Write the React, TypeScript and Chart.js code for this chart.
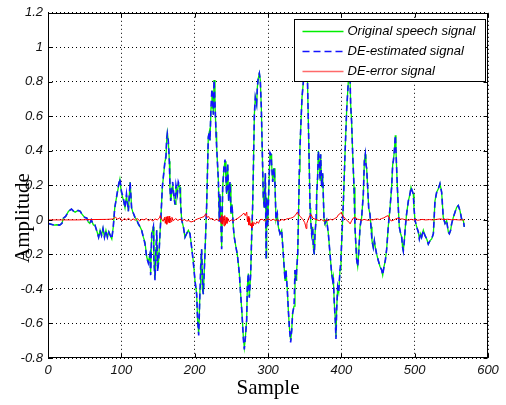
import React, { useEffect, useRef } from "react";
import { Chart, registerables } from "chart.js";

Chart.register(...registerables);

// ---- data ----
const xTickValues = [0, 100, 200, 300, 400, 500, 600];
const yTickValues = [-0.8, -0.6, -0.4, -0.2, 0, 0.2, 0.4, 0.6, 0.8, 1, 1.2];
const seriesNames = ["Original speech signal", "DE-estimated signal", "DE-error signal"];
const xTitle = "Sample";
const yTitle = "Amplitude";

// [sample, amplitude]
const originalSignal: [number, number][] = [
  [0,-0.02],[4,-0.025],[8,-0.03],[12,-0.028],[16,-0.03],[19,-0.02],[21,0.01],[24,0.02],[28,0.05],[32,0.063],
  [35,0.05],[37,0.045],[41,0.055],[44,0.05],[46,0.035],[50,0.015],[53,0.01],[55,-0.013],[57,-0.02],[59,0.0],
  [62,-0.03],[64,-0.03],[67,-0.07],[69,-0.1],[71,-0.06],[73,-0.09],[75,-0.05],[77,-0.1],[79,-0.06],[81,-0.1],
  [83,-0.07],[85,-0.09],[87,-0.11],[89,-0.04],[91,0.07],[93,0.12],[96,0.19],[98,0.235],[100,0.16],[103,0.11],
  [105,0.07],[107,0.14],[109.6,0.05],[112,0.22],[114,0.07],[116.4,0.035],[118.6,0.015],[121,0.0],[123,-0.023],[125.5,-0.04],
  [127.7,-0.06],[130,-0.1],[132.3,-0.13],[134.6,-0.215],[136.8,-0.245],[139,-0.2],[140,-0.31],[141.4,-0.08],[143.7,-0.04],[144.5,-0.235],
  [145.9,-0.34],[147.3,-0.16],[148.2,-0.06],[149.5,-0.29],[150.9,-0.235],[152.7,-0.08],[154,0.015],[155.9,0.19],[157.3,0.245],[159.5,0.34],
  [160.9,0.36],[161.8,0.46],[162.7,0.505],[164,0.46],[165.5,0.34],[166.3,0.19],[167.3,0.11],[168.6,0.15],[170,0.21],[171.8,0.13],
  [173.2,0.09],[174.5,0.19],[176.4,0.15],[177.7,0.21],[180,0.19],[180.9,0.09],[182.3,0.0],[184.6,-0.04],[186.8,-0.1],[189,-0.08],
  [191.4,-0.06],[193.6,-0.08],[195.9,-0.16],[198,-0.235],[200.4,-0.35],[202.7,-0.43],[204,-0.58],[205.5,-0.66],[206.4,-0.54],[207.3,-0.4],
  [208.2,-0.27],[209.5,-0.17],[210.9,-0.4],[211.8,-0.43],[214,-0.2],[216.4,0.09],[218.6,0.48],[220,0.51],[220.9,0.46],[222.3,0.65],
  [223.6,0.75],[225.5,0.61],[226.4,0.81],[227.7,0.67],[229.1,0.51],[230,0.42],[232.3,0.23],[233.6,0.0],[234.5,0.15],[235.5,0.035],
  [236.8,-0.16],[238.2,0.19],[240,0.3],[241.4,0.34],[242.7,0.23],[243.6,0.15],[245,0.32],[246.4,0.11],[248.2,0.21],[249.5,0.035],
  [250.9,0.09],[252.7,-0.04],[254,-0.1],[256.4,-0.16],[258.2,-0.2],[260.9,-0.31],[262.7,-0.43],[264.5,-0.54],[266.4,-0.68],[267.7,-0.74],
  [269,-0.69],[270.9,-0.58],[271.8,-0.39],[273.2,-0.31],[274.5,-0.45],[276.4,-0.31],[277.7,-0.1],[279,0.07],[280,0.28],[281.4,0.61],
  [282.7,0.71],[284.5,0.67],[285.5,0.77],[286.8,0.82],[288.2,0.85],[289.5,0.81],[290.9,0.65],[292.3,0.38],[293.6,0.13],[295,0.07],
  [296.4,0.27],[297.5,-0.22],[298.2,0.13],[299.5,-0.04],[300.9,0.15],[302.7,0.38],[304.1,0.38],[305,0.32],[306.4,0.22],[308.2,0.3],
  [309.5,0.21],[310.9,0.0],[312.7,0.035],[314.1,-0.04],[316.4,-0.08],[318.6,-0.06],[320.9,-0.2],[323.2,-0.35],[324.5,-0.29],[326.4,-0.41],
  [327.7,-0.52],[329.1,-0.62],[330.9,-0.7],[332.3,-0.64],[333.6,-0.54],[335.5,-0.5],[336.8,-0.29],[338.2,-0.35],[339.1,-0.29],[340.5,-0.2],
  [341.8,0.07],[342.7,0.28],[343.6,0.42],[345,0.57],[346.4,0.71],[348.2,0.8],[349.5,0.88],[351.8,0.95],[353.6,0.86],[355,0.57],
  [356.4,0.28],[357.3,0.07],[358.2,0.0],[359.5,-0.08],[360.9,-0.04],[361.8,-0.16],[363.2,-0.2],[364.1,-0.08],[365.5,0.0],[366.4,0.15],
  [367.7,0.25],[368.6,0.4],[370,0.34],[371,0.23],[371.8,0.38],[373.2,0.19],[374.5,0.27],[375.5,0.13],[376.4,0.0],[377.7,-0.02],
  [380,0.0],[382.3,-0.08],[384.6,-0.2],[386.8,-0.31],[388.2,-0.35],[389,-0.33],[390.4,-0.48],[391.8,-0.58],[392.7,-0.68],[393.6,-0.52],
  [395,-0.39],[396.4,-0.42],[398.2,-0.29],[399.5,-0.23],[400.9,-0.08],[402.7,0.09],[405,0.38],[407.3,0.64],[409.5,0.8],[410.9,0.9],
  [411.8,0.84],[412.7,0.67],[414,0.57],[415.5,0.38],[417.3,0.19],[418.6,-0.04],[420,-0.16],[420.9,-0.23],[422.3,-0.27],[423.6,-0.2],
  [425.5,-0.04],[427.7,0.015],[430,0.15],[431.4,0.34],[432.7,0.38],[433.6,0.32],[434.5,0.3],[435.9,0.19],[437.3,0.07],[439,0.035],
  [440.5,-0.04],[441.8,-0.12],[443.6,-0.16],[445,-0.12],[446.4,-0.16],[448.2,-0.2],[450.4,-0.235],[452.7,-0.27],[455,-0.29],[456.4,-0.32],
  [458.2,-0.27],[460,-0.235],[461.8,-0.17],[464,-0.04],[466.4,0.07],[468.6,0.19],[470,0.32],[470.9,0.34],[472.3,0.4],[473.6,0.49],
  [474.5,0.4],[476.4,0.19],[477.7,0.07],[479,-0.04],[480.9,-0.08],[482.3,-0.1],[483.6,-0.16],[484.5,-0.18],[485.9,-0.12],[487.3,-0.04],
  [489,0.035],[491.4,0.11],[493.6,0.15],[495,0.19],[496.4,0.17],[498.2,0.15],[499,0.075],[500.4,0.0],[502.7,-0.04],[505,-0.07],
  [506.4,-0.11],[508.2,-0.08],[509.5,-0.1],[511.8,-0.06],[514,-0.09],[516.4,-0.11],[518.6,-0.14],[521,-0.12],[523.2,-0.11],[525.5,-0.08],
  [527.7,0.11],[530,0.16],[532.3,0.18],[534.5,0.21],[536.8,0.16],[539,0.015],[541.4,-0.02],[543.6,-0.004],[545.9,-0.07],[547.3,-0.08],
  [549,-0.06],[550.4,-0.023],[552.7,0.015],[555,0.044],[557.3,0.073],[559.5,0.083],[561.8,0.054],[564,0.006],[566.4,-0.004],[567.7,-0.04]
];

const estimatedSignal: [number, number][] = [
  [0,-0.02],[4,-0.025],[8,-0.03],[12,-0.028],[16,-0.03],[19,-0.02],[21,0.01],[24,0.02],[28,0.05],[32,0.063],
  [35,0.05],[37,0.045],[41,0.055],[44,0.05],[46,0.035],[50,0.015],[53,0.01],[55,-0.013],[57,-0.02],[59,0.0],
  [62,-0.03],[64,-0.03],[67,-0.07],[69,-0.1],[71,-0.06],[73,-0.09],[75,-0.05],[77,-0.1],[79,-0.06],[81,-0.1],
  [83,-0.07],[85,-0.09],[87,-0.11],[89,-0.04],[91,0.07],[93,0.12],[96,0.2],[98,0.24],[100,0.17],[103,0.12],
  [105,0.07],[107,0.15],[109.6,0.05],[112,0.22],[114,0.07],[116.4,0.04],[118.6,0.015],[121,0.0],[123,-0.02],[125.5,-0.04],
  [127.7,-0.06],[130,-0.1],[132.3,-0.14],[134.6,-0.22],[136.8,-0.25],[139,-0.2],[140,-0.32],[141.4,-0.08],[143.7,-0.04],[144.5,-0.24],
  [145.9,-0.35],[147.3,-0.16],[148.2,-0.06],[149.5,-0.3],[150.9,-0.24],[152.7,-0.08],[154,0.015],[155.9,0.19],[157.3,0.25],[159.5,0.34],
  [160.9,0.37],[161.8,0.47],[162.7,0.5],[164,0.46],[165.5,0.34],[166.3,0.19],[167.3,0.11],[168.6,0.16],[170,0.22],[171.8,0.13],
  [173.2,0.09],[174.5,0.2],[176.4,0.15],[177.7,0.22],[180,0.19],[180.9,0.09],[182.3,0.0],[184.6,-0.04],[186.8,-0.1],[189,-0.08],
  [191.4,-0.06],[193.6,-0.08],[195.9,-0.16],[198,-0.24],[200.4,-0.35],[202.7,-0.43],[204,-0.58],[205.5,-0.67],[206.4,-0.54],[207.3,-0.4],
  [208.2,-0.27],[209.5,-0.17],[210.9,-0.4],[211.8,-0.43],[214,-0.2],[216.4,0.09],[218.6,0.48],[220,0.51],[220.9,0.46],[222.3,0.66],
  [223.6,0.76],[225.5,0.61],[226.4,0.81],[227.7,0.68],[229.1,0.51],[230,0.42],[232.3,0.23],[233.6,-0.01],[234.5,0.15],[235.5,0.03],
  [236.8,-0.17],[238.2,0.19],[240,0.31],[241.4,0.35],[242.7,0.23],[243.6,0.15],[245,0.33],[246.4,0.11],[248.2,0.22],[249.5,0.035],
  [250.9,0.09],[252.7,-0.04],[254,-0.1],[256.4,-0.16],[258.2,-0.2],[260.9,-0.31],[262.7,-0.43],[264.5,-0.54],[266.4,-0.69],[267.7,-0.75],
  [269,-0.69],[270.9,-0.58],[271.8,-0.39],[273.2,-0.31],[274.5,-0.45],[276.4,-0.31],[277.7,-0.1],[279,0.07],[280,0.28],[281.4,0.61],
  [282.7,0.71],[284.5,0.67],[285.5,0.77],[286.8,0.83],[288.2,0.85],[289.5,0.81],[290.9,0.65],[292.3,0.38],[293.6,0.13],[295,0.07],
  [296.4,0.27],[297.5,-0.23],[298.2,0.13],[299.5,-0.04],[300.9,0.15],[302.7,0.39],[304.1,0.38],[305,0.32],[306.4,0.22],[308.2,0.3],
  [309.5,0.21],[310.9,0.0],[312.7,0.035],[314.1,-0.04],[316.4,-0.08],[318.6,-0.06],[320.9,-0.2],[323.2,-0.35],[324.5,-0.29],[326.4,-0.41],
  [327.7,-0.52],[329.1,-0.62],[330.9,-0.71],[332.3,-0.64],[333.6,-0.54],[335.5,-0.5],[336.8,-0.29],[338.2,-0.35],[339.1,-0.29],[340.5,-0.2],
  [341.8,0.07],[342.7,0.28],[343.6,0.42],[345,0.57],[346.4,0.71],[348.2,0.8],[349.5,0.88],[351.8,0.96],[353.6,0.86],[355,0.57],
  [356.4,0.28],[357.3,0.07],[358.2,0.0],[359.5,-0.08],[360.9,-0.04],[361.8,-0.16],[363.2,-0.2],[364.1,-0.08],[365.5,0.0],[366.4,0.15],
  [367.7,0.25],[368.6,0.4],[370,0.34],[371,0.23],[371.8,0.38],[373.2,0.19],[374.5,0.27],[375.5,0.13],[376.4,0.0],[377.7,-0.02],
  [380,0.0],[382.3,-0.08],[384.6,-0.2],[386.8,-0.31],[388.2,-0.35],[389,-0.33],[390.4,-0.48],[391.8,-0.59],[392.7,-0.69],[393.6,-0.52],
  [395,-0.39],[396.4,-0.42],[398.2,-0.29],[399.5,-0.23],[400.9,-0.08],[402.7,0.09],[405,0.38],[407.3,0.64],[409.5,0.8],[410.9,0.9],
  [411.8,0.84],[412.7,0.67],[414,0.57],[415.5,0.38],[417.3,0.19],[418.6,-0.04],[420,-0.16],[420.9,-0.23],[422.3,-0.27],[423.6,-0.2],
  [425.5,-0.04],[427.7,0.015],[430,0.15],[431.4,0.34],[432.7,0.38],[433.6,0.32],[434.5,0.3],[435.9,0.19],[437.3,0.07],[439,0.035],
  [440.5,-0.04],[441.8,-0.12],[443.6,-0.16],[445,-0.12],[446.4,-0.16],[448.2,-0.2],[450.4,-0.235],[452.7,-0.27],[455,-0.29],[456.4,-0.32],
  [458.2,-0.27],[460,-0.235],[461.8,-0.17],[464,-0.04],[466.4,0.07],[468.6,0.19],[470,0.32],[470.9,0.34],[472.3,0.4],[473.6,0.49],
  [474.5,0.4],[476.4,0.19],[477.7,0.07],[479,-0.04],[480.9,-0.08],[482.3,-0.1],[483.6,-0.16],[484.5,-0.18],[485.9,-0.12],[487.3,-0.04],
  [489,0.035],[491.4,0.11],[493.6,0.15],[495,0.19],[496.4,0.17],[498.2,0.15],[499,0.075],[500.4,0.0],[502.7,-0.04],[505,-0.07],
  [506.4,-0.11],[508.2,-0.08],[509.5,-0.1],[511.8,-0.06],[514,-0.09],[516.4,-0.11],[518.6,-0.14],[521,-0.12],[523.2,-0.11],[525.5,-0.08],
  [527.7,0.11],[530,0.16],[532.3,0.18],[534.5,0.21],[536.8,0.16],[539,0.015],[541.4,-0.02],[543.6,-0.004],[545.9,-0.07],[547.3,-0.08],
  [549,-0.06],[550.4,-0.023],[552.7,0.015],[555,0.044],[557.3,0.073],[559.5,0.083],[561.8,0.054],[564,0.006],[566.4,-0.004],[567.7,-0.04]
];

const errorSignal: [number, number][] = [
  [0,0],[20,0],[40,0],[60,0.002],[80,0.003],[88,0.005],[92,0.015],[95,0.005],[98,0.012],[101,-0.005],
  [104,0.008],[107,0.0],[110,0.01],[113,-0.004],[116,0.006],[119,-0.002],[122,0.008],[125,-0.006],[128,0.004],[131,0.0],
  [134,0.008],[137,-0.004],[140,0.003],[143,-0.006],[146,0.006],[149,0.0],[152,0.012],[153,0.025],[155,0.005],[157,-0.008],
  [159,0.015],[160,-0.02],[161,0.018],[162,-0.025],[163,0.02],[164,-0.015],[165,0.022],[166,-0.018],[167,0.01],[168,-0.01],
  [169,0.015],[171,-0.005],[174,0.008],[177,-0.003],[180,0.004],[183,-0.004],[186,0.002],[189,-0.006],[192,-0.004],[195,-0.012],
  [198,-0.008],[201,0.0],[204,0.006],[207,0.01],[210,0.015],[213,0.02],[215,0.035],[217,0.015],[219,0.02],[221,0.005],
  [224,0.008],[227,-0.003],[230,0.004],[233,-0.005],[235,0.015],[236,-0.02],[237,0.03],[238,-0.025],[239,0.02],[240,-0.035],
  [241,0.025],[242,-0.03],[243,0.015],[244,-0.02],[245,0.01],[247,-0.01],[250,0.0],[253,-0.005],[256,0.003],[259,0.01],
  [262,0.02],[265,0.03],[267,0.04],[269,0.025],[271,0.045],[272,-0.01],[273,0.02],[274,-0.03],[275,0.01],[276,-0.035],
  [277,-0.02],[278,-0.045],[279,-0.01],[280,-0.035],[281,-0.015],[283,-0.025],[285,-0.01],[287,-0.02],[289,0.0],[292,0.004],
  [295,-0.005],[298,0.002],[301,0.006],[304,-0.004],[307,0.004],[310,-0.003],[313,0.0],[316,-0.006],[319,0.003],[322,-0.002],
  [325,0.005],[328,0.008],[331,0.01],[334,0.015],[337,0.025],[340,0.045],[342,0.03],[344,0.02],[346,0.01],[348,0.0],
  [350,-0.015],[351,-0.03],[352,-0.05],[353,-0.02],[355,0.005],[357,0.025],[359,0.03],[361,0.01],[364,0.005],[367,0.0],
  [370,-0.004],[373,0.002],[376,-0.006],[379,0.0],[382,-0.004],[385,0.004],[388,0.0],[391,0.008],[394,0.015],[396,0.03],
  [398,0.035],[400,0.045],[402,0.02],[405,0.01],[408,-0.005],[411,-0.015],[412,-0.023],[414,-0.005],[416,0.01],[419,0.015],
  [422,0.004],[425,0.002],[428,-0.002],[431,0.003],[434,0.0],[437,-0.003],[440,0.002],[443,0.0],[446,0.004],[449,0.006],
  [452,0.002],[455,0.008],[458,0.012],[461,0.02],[464,0.025],[466,0.005],[468,-0.006],[471,-0.002],[474,0.006],[477,0.01],
  [480,0.004],[483,0.006],[486,0.002],[489,0.0],[492,-0.002],[495,0.004],[498,0.0],[501,0.002],[504,-0.002],[507,0.0],
  [510,0.003],[515,0.0],[520,0.002],[525,0.0],[530,0.003],[535,0.006],[540,0.002],[545,0.004],[550,0.001],[555,0.002],
  [560,0.0],[565,0.0],[568,0.0]
];

const GREEN = "#00ee00";
const BLUE = "#1414ff";
const RED = "#ff0000";
const SANS = "'Liberation Sans', Arial, Helvetica, sans-serif";
const SERIF = "'Liberation Serif', 'Times New Roman', serif";

const toPoints = (arr: [number, number][]) => arr.map(([x, y]) => ({ x, y }));

const decorPlugin = {
  id: "matlabDecor",
  afterDatasetsDraw(chart: any) {
    const { ctx, chartArea: a, scales } = chart;
    const L = Math.round(a.left) + 0.5;
    const R = Math.round(a.right) - 0.5;
    const T = Math.round(a.top) + 0.5;
    const B = Math.round(a.bottom) - 0.5;
    ctx.save();
    ctx.setLineDash([]);
    ctx.strokeStyle = "#000";
    ctx.lineWidth = 1;
    // inward ticks
    const tl = 4;
    ctx.beginPath();
    xTickValues.forEach((v) => {
      const px = Math.round(scales.x.getPixelForValue(v)) + 0.5;
      ctx.moveTo(px, B); ctx.lineTo(px, B - tl);
      ctx.moveTo(px, T); ctx.lineTo(px, T + tl);
    });
    yTickValues.forEach((v) => {
      const py = Math.round(scales.y.getPixelForValue(v)) + 0.5;
      ctx.moveTo(L, py); ctx.lineTo(L + tl, py);
      ctx.moveTo(R, py); ctx.lineTo(R - tl, py);
    });
    ctx.stroke();
    // frame
    ctx.strokeRect(L, T, R - L, B - T);

    // legend box (inside, top right)
    const bw = 191, bh = 62;
    const bx = Math.round(a.right) - 194 + 0.5;
    const by = Math.round(a.top) + 6 + 0.5;
    ctx.fillStyle = "#fff";
    ctx.fillRect(bx, by, bw, bh);
    ctx.strokeStyle = "#000";
    ctx.strokeRect(bx, by, bw, bh);
    const colors = [GREEN, BLUE, "#ff6a6a"];
    const dashes = [[], [7, 4], []];
    ctx.font = `italic 13px ${SANS}`;
    ctx.textBaseline = "middle";
    ctx.textAlign = "left";
    seriesNames.forEach((name, i) => {
      const yy = by + 12 + i * 20;
      ctx.beginPath();
      ctx.setLineDash(dashes[i]);
      ctx.strokeStyle = colors[i];
      ctx.lineWidth = 1.3;
      ctx.moveTo(bx + 8, yy);
      ctx.lineTo(bx + 49, yy);
      ctx.stroke();
      ctx.setLineDash([]);
      ctx.fillStyle = "#000";
      ctx.fillText(name, bx + 53, yy);
    });
    ctx.restore();
  },
  afterDraw(chart: any) {
    const { ctx, chartArea: a } = chart;
    ctx.save();
    ctx.fillStyle = "#000";
    ctx.font = `21px ${SERIF}`;
    ctx.textAlign = "center";
    ctx.textBaseline = "alphabetic";
    ctx.fillText(xTitle, (a.left + a.right) / 2 + 0, 394);
    ctx.translate(29, 218);
    ctx.rotate(-Math.PI / 2);
    ctx.fillText(yTitle, 0, 0);
    ctx.restore();
  },
};

export default function App() {
  const canvasRef = useRef<HTMLCanvasElement | null>(null);

  useEffect(() => {
    const canvas = canvasRef.current;
    if (!canvas) return;
    const chart = new Chart(canvas, {
      type: "line",
      data: {
        datasets: [
          {
            label: seriesNames[2],
            data: toPoints(errorSignal),
            borderColor: RED,
            borderWidth: 1,
            pointRadius: 0,
            order: 0,
          },
          {
            label: seriesNames[1],
            data: toPoints(estimatedSignal),
            borderColor: BLUE,
            borderWidth: 1.6,
            borderDash: [6, 4],
            pointRadius: 0,
            order: 1,
          },
          {
            label: seriesNames[0],
            data: toPoints(originalSignal),
            borderColor: GREEN,
            borderWidth: 1.3,
            pointRadius: 0,
            order: 2,
          },
        ],
      },
      options: {
        responsive: false,
        animation: false,
        layout: { padding: { top: 11, right: 18, left: 0, bottom: 0 } },
        plugins: { legend: { display: false }, tooltip: { enabled: false } },
        elements: { line: { tension: 0 } },
        scales: {
          x: {
            type: "linear",
            min: 0,
            max: 600,
            afterBuildTicks: (s: any) => { s.ticks = xTickValues.map((v) => ({ value: v })); },
            afterFit: (s: any) => { s.height = 47; },
            grid: { color: "#000", lineWidth: 1, drawTicks: false },
            border: { display: false, dash: [1, 3] },
            ticks: {
              padding: 5,
              color: "#111",
              font: { family: SANS, size: 13, style: "italic" },
              maxRotation: 0,
              callback: (v: any) => String(v),
            },
          },
          y: {
            type: "linear",
            min: -0.8,
            max: 1.2,
            afterBuildTicks: (s: any) => { s.ticks = yTickValues.map((v) => ({ value: v })); },
            afterFit: (s: any) => { s.width = 48; },
            grid: { color: "#000", lineWidth: 1, drawTicks: false },
            border: { display: false, dash: [1, 3] },
            ticks: {
              padding: 5,
              color: "#111",
              font: { family: SANS, size: 13, style: "italic" },
              callback: (v: any) => String(Math.round(Number(v) * 10) / 10),
            },
          },
        },
      },
      plugins: [decorPlugin],
    });
    return () => chart.destroy();
  }, []);

  return (
    <div style={{ position: "fixed", left: 0, top: 0, width: 506, height: 405, background: "#fff" }}>
      <canvas ref={canvasRef} width={506} height={405} style={{ display: "block" }} />
    </div>
  );
}
